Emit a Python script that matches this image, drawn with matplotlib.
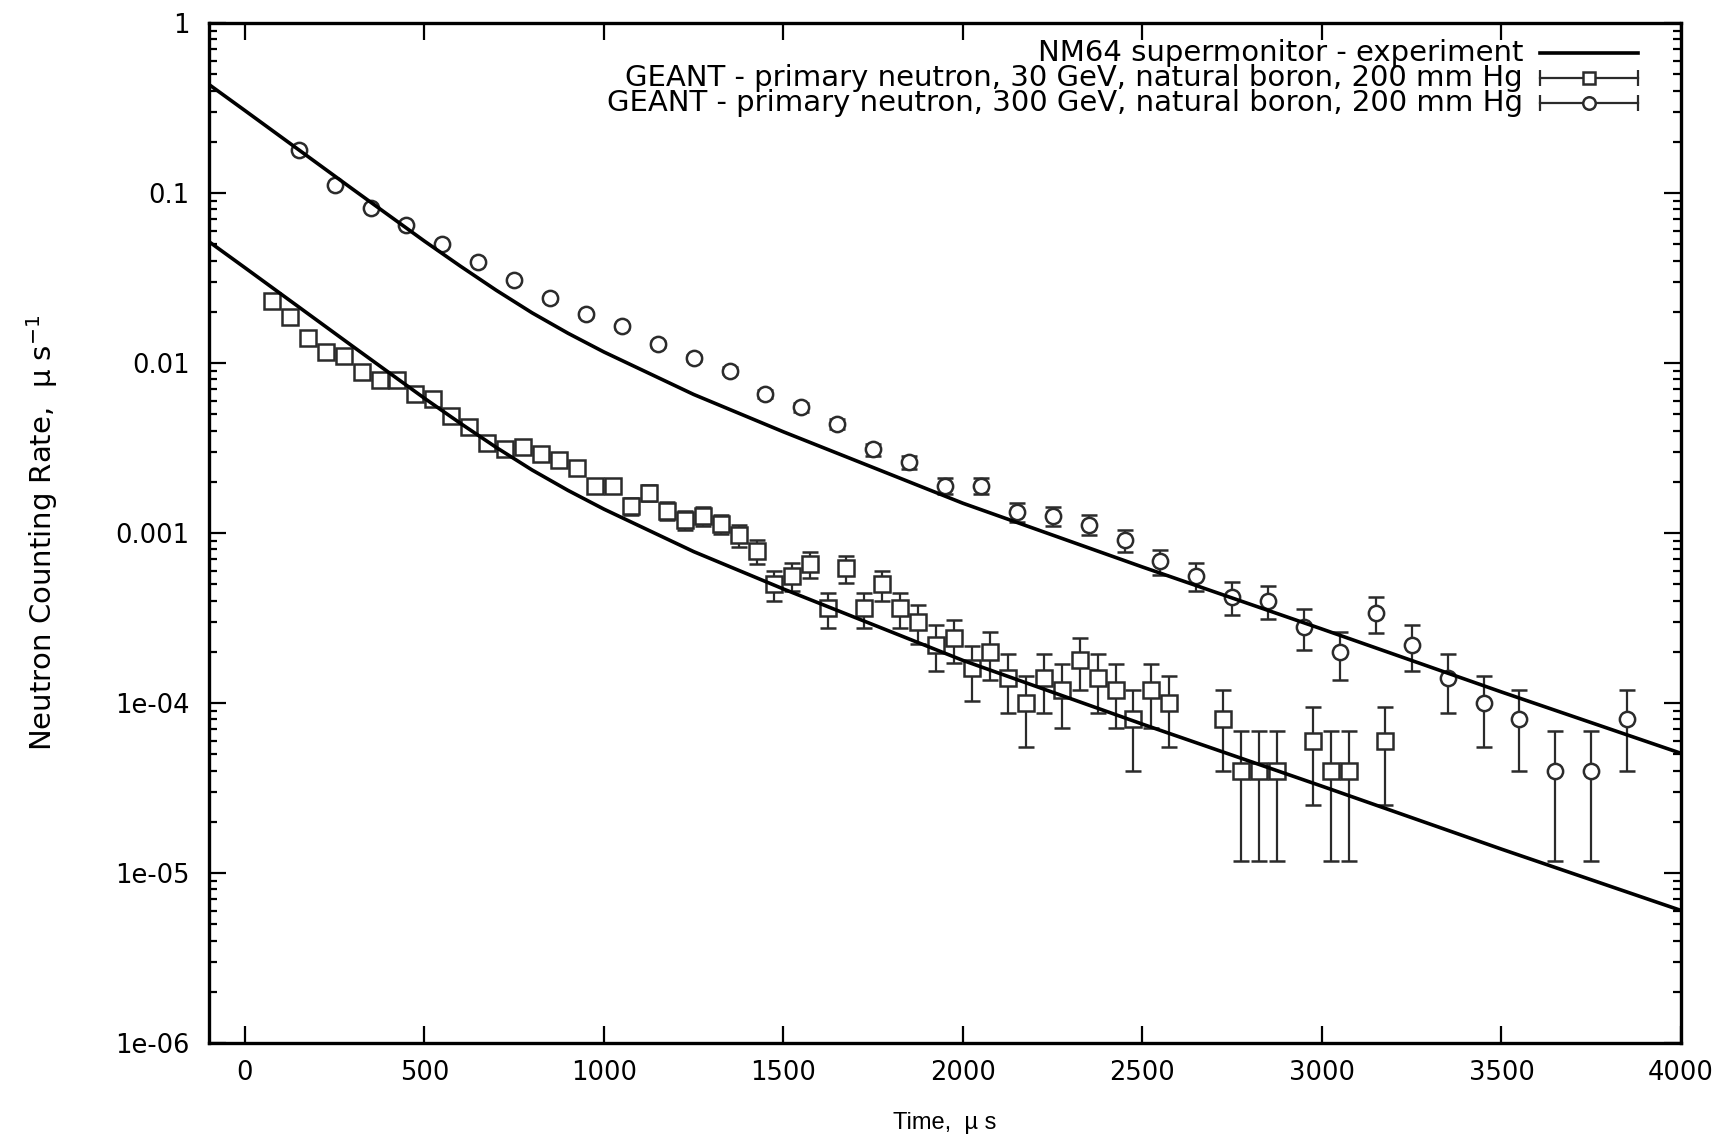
import numpy as np
import matplotlib
matplotlib.use('Agg')
import matplotlib.pyplot as plt
from matplotlib.ticker import NullLocator, NullFormatter, LogLocator

plt.rcParams['font.family'] = ['DejaVu Sans']

# NM64 supermonitor experiment curve (upper copy),
# the lower copy is the same curve scaled down
nm64_t = [-100, 0, 100, 200, 300, 400, 500, 600, 700, 800, 900, 1000, 1250, 1500,
          1750, 2000, 2500, 3000, 3500, 4000]
nm64_rate = [0.4345, 0.3055, 0.2143, 0.1503, 0.1054, 0.0741, 0.05212, 0.03715, 0.02679,
             0.01972, 0.01496, 0.01161, 0.00653, 0.003936, 0.002427, 0.001496, 0.000631,
             0.0002723, 0.0001161, 0.0000506]
norm_300gev = 1.0
norm_30gev = 0.119

# GEANT, primary neutron 30 GeV (squares)
t_30 = [75, 125, 175, 225, 275, 325, 375, 425, 475, 525, 575, 625, 675, 725, 775, 825,
        875, 925, 975, 1025, 1075, 1125, 1175, 1225, 1275, 1325, 1375, 1425, 1475, 1525,
        1575, 1625, 1675, 1725, 1775, 1825, 1875, 1925, 1975, 2025, 2075, 2125, 2175,
        2225, 2275, 2325, 2375, 2425, 2475, 2525, 2575, 2725, 2775, 2825, 2875, 2975,
        3025, 3075, 3175]
rate_30 = [0.0231, 0.0186, 0.0141, 0.0116, 0.0110, 0.0088, 0.0079, 0.0079, 0.0066, 0.0061,
           0.0049, 0.0042, 0.0034, 0.0031, 0.0032, 0.0029, 0.0027, 0.0024, 0.0019, 0.0019,
           0.00144, 0.00172, 0.00135, 0.00119, 0.00126, 0.00113, 0.00097, 0.00078, 0.00050,
           0.00056, 0.00066, 0.00036, 0.00062, 0.00036, 0.00050, 0.00036, 0.00030, 0.00022,
           0.00024, 0.00016, 0.00020, 0.00014, 0.00010, 0.00014, 0.00012, 0.00018, 0.00014,
           0.00012, 0.00008, 0.00012, 0.00010, 0.00008, 0.00004, 0.00004, 0.00004, 0.00006,
           0.00004, 0.00004, 0.00006]
err_30 = [6.8e-4, 6.1e-4, 5.3e-4, 4.8e-4, 4.7e-4, 4.2e-4, 4.0e-4, 4.0e-4, 3.6e-4, 3.5e-4,
          3.1e-4, 2.9e-4, 2.6e-4, 2.5e-4, 2.5e-4, 2.4e-4, 2.3e-4, 2.2e-4, 1.9e-4, 1.9e-4,
          1.7e-4, 1.85e-4, 1.64e-4, 1.54e-4, 1.59e-4, 1.50e-4, 1.39e-4, 1.25e-4, 1.0e-4,
          1.06e-4, 1.15e-4, 8.5e-5, 1.11e-4, 8.5e-5, 1.0e-4, 8.5e-5, 7.7e-5, 6.6e-5,
          6.9e-5, 5.7e-5, 6.3e-5, 5.3e-5, 4.5e-5, 5.3e-5, 4.9e-5, 6.0e-5, 5.3e-5,
          4.9e-5, 4.0e-5, 4.9e-5, 4.5e-5, 4.0e-5, 2.83e-5, 2.83e-5, 2.83e-5, 3.5e-5,
          2.83e-5, 2.83e-5, 3.5e-5]

# GEANT, primary neutron 300 GeV (circles)
t_300 = [150, 250, 350, 450, 550, 650, 750, 850, 950, 1050, 1150, 1250, 1350, 1450, 1550,
         1650, 1750, 1850, 1950, 2050, 2150, 2250, 2350, 2450, 2550, 2650, 2750, 2850,
         2950, 3050, 3150, 3250, 3350, 3450, 3550, 3650, 3750, 3850]
rate_300 = [0.180, 0.111, 0.0813, 0.0648, 0.0499, 0.0394, 0.0308, 0.0240, 0.0193, 0.0164,
            0.0129, 0.0107, 0.0090, 0.0066, 0.0055, 0.0044, 0.0031, 0.0026, 0.0019, 0.0019,
            0.00133, 0.00126, 0.00112, 0.00091, 0.00068, 0.00056, 0.00042, 0.00040,
            0.00028, 0.00020, 0.00034, 0.00022, 0.00014, 0.00010, 0.00008, 0.00004,
            0.00004, 0.00008]
err_300 = [1.9e-3, 1.49e-3, 1.28e-3, 1.14e-3, 1.0e-3, 8.9e-4, 7.8e-4, 6.9e-4, 6.2e-4, 5.7e-4,
           5.1e-4, 4.6e-4, 4.2e-4, 3.6e-4, 3.3e-4, 3.0e-4, 2.5e-4, 2.3e-4, 1.95e-4, 1.95e-4,
           1.63e-4, 1.59e-4, 1.50e-4, 1.35e-4, 1.17e-4, 1.06e-4, 9.2e-5, 8.9e-5,
           7.5e-5, 6.3e-5, 8.2e-5, 6.6e-5, 5.3e-5, 4.5e-5, 4.0e-5, 2.83e-5,
           2.83e-5, 4.0e-5]

x_ticks = [0, 500, 1000, 1500, 2000, 2500, 3000, 3500, 4000]
y_ticks = [1e-6, 1e-5, 1e-4, 1e-3, 1e-2, 1e-1, 1]
y_ticklabels = ['1e-06', '1e-05', '1e-04', '0.001', '0.01', '0.1', '1']

labels = ['NM64 supermonitor - experiment',
          'GEANT - primary neutron, 30 GeV, natural boron, 200 mm Hg',
          'GEANT - primary neutron, 300 GeV, natural boron, 200 mm Hg']

fig = plt.figure(figsize=(17.27, 11.40), dpi=100)
ax = fig.add_axes([0.12102, 0.08509, 0.85234, 0.89474])
ax.set_yscale('log')

gray = '#2b2b2b'
ax.errorbar(t_30, rate_30, yerr=err_30, fmt='s', ms=11, mfc='white', mec=gray, mew=1.8,
            ecolor=gray, elinewidth=1.6, capsize=6, capthick=1.6, zorder=3)
ax.errorbar(t_300, rate_300, yerr=err_300, fmt='o', ms=11, mfc='white', mec=gray, mew=1.8,
            ecolor=gray, elinewidth=1.6, capsize=6, capthick=1.6, zorder=3)

curve = np.array(nm64_rate)
ax.plot(nm64_t, curve * norm_300gev, color='k', lw=2.6, zorder=5)
ax.plot(nm64_t, curve * norm_30gev, color='k', lw=2.6, zorder=5)

ax.set_xlim(-100, 4000)
ax.set_ylim(1e-6, 1)
ax.set_xticks(x_ticks)
ax.set_xticklabels([str(v) for v in x_ticks])
ax.set_yticks(y_ticks)
ax.set_yticklabels(y_ticklabels)
ax.xaxis.set_minor_locator(NullLocator())
ax.yaxis.set_minor_locator(LogLocator(base=10, subs=np.arange(2, 10)))
ax.yaxis.set_minor_formatter(NullFormatter())

ax.tick_params(which='both', direction='in', top=True, right=True, width=1.6, colors='k')
ax.tick_params(which='major', length=12, labelsize=18.5)
ax.tick_params(axis='y', which='major', pad=14)
ax.tick_params(axis='x', which='major', pad=12)
ax.tick_params(which='minor', length=6)
for s in ax.spines.values():
    s.set_linewidth(2.4)

ax.set_xlabel('Time,  µ s', fontsize=17, va='center', family=['Liberation Sans'])
ax.xaxis.set_label_coords(0.5, -0.0784)
ax.set_ylabel('Neutron Counting Rate,  µ s$^{\\mathregular{-1}}$', fontsize=21, va='center')
ax.yaxis.set_label_coords(-0.1134, 0.5)

# key, gnuplot style: text right-aligned, sample to the right
key_y = [0.9707, 0.9459, 0.9211]
x_txt, x0, x1 = 0.8927, 0.904, 0.971
for i, lab in enumerate(labels):
    ax.text(x_txt, key_y[i], lab, transform=ax.transAxes, ha='right', va='center',
            fontsize=21)
ax.plot([x0, x1], [key_y[0]] * 2, transform=ax.transAxes, color='k', lw=2.6)
for y, m in zip(key_y[1:], ['s', 'o']):
    ax.plot([x0, x1], [y, y], transform=ax.transAxes, color=gray, lw=1.6,
            marker='|', ms=12, mew=1.6)
    ax.plot([(x0 + x1) / 2], [y], transform=ax.transAxes, marker=m, ms=9,
            mfc='white', mec=gray, mew=1.8, ls='none')

fig.savefig('out.png', dpi=100)
